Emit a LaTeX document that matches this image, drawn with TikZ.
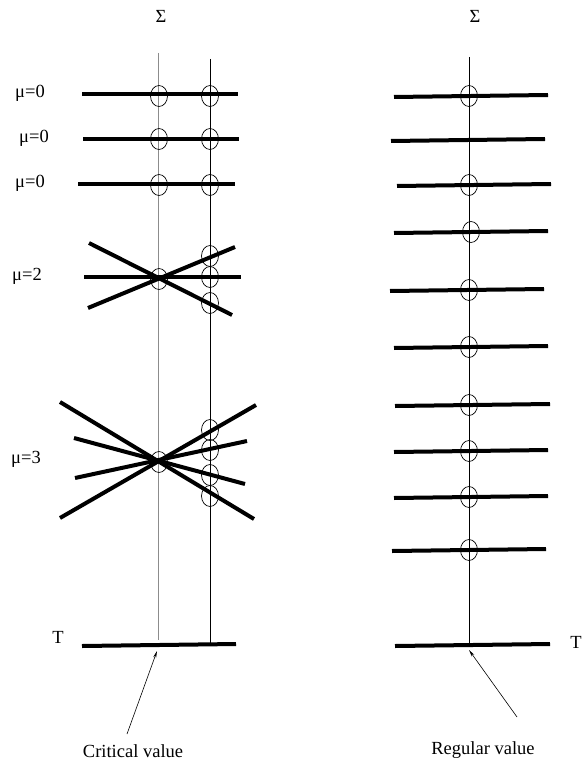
\documentclass[tikz,border=0pt]{standalone}
\usepackage{fontspec}
\setmainfont{Liberation Serif}
\usetikzlibrary{arrows.meta,shapes.geometric}
\begin{document}
\begin{tikzpicture}[x=1pt,y=-1pt,
  thickline/.style={line width=4pt},
  axisline/.style={line width=0.8pt},
  ring/.style={draw,ellipse,line width=0.7pt,minimum width=17pt,minimum height=21pt,inner sep=0pt},
  lbl/.style={font=\fontsize{18.5}{20}\selectfont,inner sep=0pt},
  ptr/.style={line width=0.6pt,-{Stealth[length=7pt,width=3pt]}}]
\useasboundingbox (0,0) rectangle (582,767);
% ---------- left panel ----------
\node[lbl] (sigL) at (161,16) {Σ};
\coordinate (vLt) at (158,53);
\coordinate (vLb) at (158,640);
\coordinate (vRt) at (210,59);
\coordinate (vRb) at (210,643);
\draw[axisline,gray!90] (vLt) -- (vLb);
\draw[axisline] (vRt) -- (vRb);
% mu=0 lines
\draw[thickline] (82,94) -- (238,94);
\draw[thickline] (83,139) -- (239,139);
\draw[thickline] (78,184) -- (235,184);
\node[lbl] (m1) at (30,93) {μ=0};
\node[lbl] (m2) at (34,138) {μ=0};
\node[lbl] (m3) at (30,183) {μ=0};
\foreach \y in {96,139,185}{
  \node[ring] at (159,\y) {};
  \node[ring] at (210,\y) {};
}
% mu=2
\draw[thickline] (84,277) -- (241,277);
\draw[thickline] (89,243) -- (232,315);
\draw[thickline] (88,308) -- (235,247);
\node[lbl] (m4) at (27,276) {μ=2};
\node[ring] at (159,279) {};
\foreach \y in {256,277,303}{ \node[ring] at (210,\y) {}; }
% mu=3
\draw[thickline] (60,402) -- (254,519);
\draw[thickline] (74,438) -- (245,484);
\draw[thickline] (75,478) -- (247,441);
\draw[thickline] (60,518) -- (256,405);
\node[lbl] (m5) at (26,459) {μ=3};
\node[ring] at (159,462) {};
\foreach \y in {430,450,475,496}{ \node[ring] at (210,\y) {}; }
% T line
\draw[thickline] (82,646) -- (236,644);
\node[lbl] (TL) at (58,637) {T};
\node[lbl] (crit) at (133,751) {Critical value};
\coordinate (critTip) at (157,651);
\draw[ptr] (127,734) -- (critTip);
% ---------- right panel ----------
\node[lbl] (sigR) at (475,16) {Σ};
\coordinate (wt) at (469,57);
\coordinate (wb) at (469,644);
\draw[axisline] (wt) -- (wb);
\draw[thickline] (394,97) -- (548,95);
\draw[thickline] (391,141) -- (545,139);
\draw[thickline] (397,186) -- (551,184);
\draw[thickline] (394,233) -- (548,231);
\draw[thickline] (390,291) -- (544,289);
\draw[thickline] (394,348) -- (548,346);
\draw[thickline] (395,406) -- (550,404);
\draw[thickline] (394,452) -- (548,450);
\draw[thickline] (394,498) -- (548,496);
\draw[thickline] (392,551) -- (546,549);
\foreach \y/\dx in {96/0,185/0,232/2,290/0,347/0,405/0,451/0,497/0,550/0}{
  \node[ring] at (469+\dx,\y) {};
}
\draw[thickline] (395,646) -- (550,644);
\node[lbl] (TR) at (576,642) {T};
\node[lbl] (reg) at (483,750) {Regular value};
\coordinate (regTip) at (469,650);
\draw[ptr] (517,717) -- (regTip);
\end{tikzpicture}
\end{document}
